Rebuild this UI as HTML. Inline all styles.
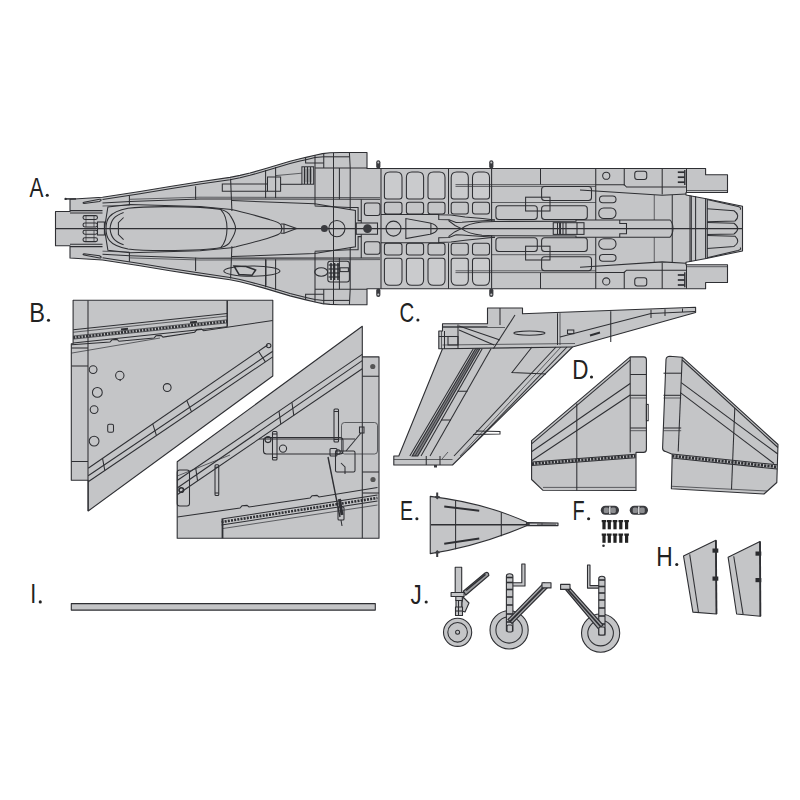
<!DOCTYPE html>
<html><head><meta charset="utf-8"><style>
html,body{margin:0;padding:0;background:#fff;width:800px;height:800px;overflow:hidden}
svg{display:block}
text{font-family:"Liberation Sans",sans-serif;font-size:24px;fill:#222;}
.g{fill:#c4c5c7;stroke:#2e2f33;stroke-width:1.1;stroke-linejoin:round}
.l{fill:none;stroke:#2e2f33;stroke-width:1.05}
.t{fill:none;stroke:#2e2f33;stroke-width:0.7}
.k{fill:#3a3b3f;stroke:none}
</style></head><body>
<svg width="800" height="800" viewBox="0 0 800 800">
<path class="g" d="M55.50,211.50 L70.00,211.50 L70.00,199.20 L102.50,197.20 L140.00,191.50 L170.00,186.50 L200.00,181.80 L230.00,177.40 L240.00,175.40 L250.00,173.00 L265.00,168.80 L280.00,164.30 L290.00,161.30 L300.00,158.80 L307.00,157.10 L315.00,155.20 L322.50,153.60 L330.00,152.80 L340.00,152.50 L367.00,152.50 L367.00,168.50 L705.60,168.50 L705.60,174.75 L727.50,174.75 L727.50,192.50 L686.00,192.50 L686.00,195.00 L706.25,198.75 L742.50,206.25 L742.50,250.95 L706.25,258.45 L686.00,262.20 L686.00,264.70 L727.50,264.70 L727.50,282.45 L705.60,282.45 L705.60,288.70 L367.00,288.70 L367.00,304.70 L340.00,304.70 L330.00,304.40 L322.50,303.60 L315.00,302.00 L307.00,300.10 L300.00,298.40 L290.00,295.90 L280.00,292.90 L265.00,288.40 L250.00,284.20 L240.00,281.80 L230.00,279.80 L200.00,275.40 L170.00,270.70 L140.00,265.70 L102.50,260.00 L70.00,258.00 L70.00,245.70 L55.50,245.70 Z" />
<path class="l" d="M55.50,228.60 L742.50,228.60" />
<path class="l" d="M222.3,184 L267.5,184 L267.5,176.9 L280.6,176.9 L280.6,191.3 L222.3,191.3 Z"/>
<path class="l" d="M267.50,191.30 L267.50,184.00" />
<rect class="l" x="301.9" y="166.8" width="11.8" height="17.4"/>
<rect class="k" x="303.5" y="168.5" width="8.6" height="14" fill-opacity="0.35"/>
<path class="l" d="M304.50,167.00 L304.50,184.00" />
<path class="l" d="M307.50,167.00 L307.50,184.00" />
<path class="l" d="M310.50,167.00 L310.50,184.00" />
<path class="l" d="M280.00,184.30 L301.90,184.30" />
<path class="t" d="M275.60,175.60 L301.90,173.20" />
<path class="l" d="M70.00,210.60 L102.50,210.60" />
<path class="l" d="M70.00,213.00 L102.50,213.00" />
<path class="l" d="M84,202.2 L99.5,199.2 Q101.5,199 101,200.5 L99.5,201.5 L84,203.4 Q82,203 84,202.2 Z"/>
<rect class="l" x="83" y="215.6" width="14.50" height="3.80" rx="1.9"/>
<rect class="l" x="83" y="223" width="14.50" height="4.00" rx="1.9"/>
<path class="t" d="M86.00,215.60 L86.00,227.00" />
<path class="t" d="M94.00,215.60 L94.00,227.00" />
<path class="l" d="M102.50,199.40 L140.00,193.80 L170.00,188.80 L200.00,184.10 L230.00,179.70 L240.00,177.70 L250.00,175.30 L265.00,171.10 L280.00,166.60 L290.00,163.60 L300.00,161.10 L307.00,159.40 L315.00,157.60 L323.75,156.80" />
<path class="l" d="M102.50,203.00 L130.00,201.50 L200.00,199.00 L380.00,199.30" />
<path class="t" d="M130.00,199.30 L200.00,197.20 L380.00,197.60" />
<path class="t" d="M102.50,206.00 L129.40,205.20" />
<path class="l" d="M129.40,195.50 L129.40,205.20" />
<path class="l" d="M195.60,186.20 L195.60,199.40" />
<path class="l" d="M230.60,178.70 L231.90,211.00" />
<path class="l" d="M265.60,170.00 L265.60,198.00" />
<path class="l" d="M275.60,167.00 L275.60,198.00" />
<path class="l" d="M305.60,157.40 L305.60,163.00 L323.75,163.00" />
<path class="l" d="M315.00,155.00 L315.00,205.50" />
<path class="l" d="M323.75,153.00 L323.75,168.00" />
<path class="l" d="M323.75,156.80 L349.40,156.80" />
<path class="l" d="M349.40,152.50 L350.20,168.00 L350.20,209.50" />
<path class="l" d="M315.00,168.00 L367.00,168.00" />
<path class="l" d="M339.40,168.00 L339.40,199.30" />
<path class="l" d="M104.4,228.6 L107.9,207 L130,204.5 L200,206.5 L231.5,209.5"/>
<path class="l" d="M106,228.6 C106,220 108,212 128,208.2 C140,206.6 150,206.6 165,206.6 C195,206.6 213,207.8 220.8,209.6 C225,214 227,220 227,228.6"/>
<path class="l" d="M110,228.6 C111,220 114,216 123.6,212.5"/>
<path class="l" d="M118.4,228.6 L118.4,222.7 L123.6,217.5"/>
<path class="l" d="M220.8,209.6 C226,211 229,213 230.5,216 C233,220 235.6,224 235.6,228.6"/>
<path class="l" d="M231.5,209.5 L236,210.5 C250,214 262,217 270,219.8 C276,221.5 280,223 281,225 L282,228.6"/>
<path class="l" d="M231.9,200.6 L314.75,203.8 L355.4,210.5 L355.4,228.6"/>
<path class="l" d="M281,224 L284,224 L296.7,228.6"/>
<path class="l" d="M284.00,224.00 L284.00,228.60" />
<path class="l" d="M314.75,206.00 L350.20,207.50 L358.10,207.50 L358.10,220.60 L361.25,220.60" />
<path class="l" d="M333.50,152.80 L333.50,228.60" />
<path class="l" d="M361.25,199.30 L361.25,223.00" />
<path class="l" d="M381.00,168.50 L381.00,228.60" />
<path class="l" d="M448.50,168.50 L448.50,214.00" />
<path class="l" d="M491.60,168.50 L491.60,221.60" />
<path class="l" fill="#cacbcd" d="M384.4,196.5 L384.4,177.5 Q384.4,172 389.9,172 L396.5,172 Q402,172 402,177.5 L402,196.5 Q402,199 399.5,199 L386.9,199 Q384.4,199 384.4,196.5 Z" style="fill:#cacbcd"/>
<rect class="l" x="384.4" y="202.3" width="17.60" height="11.70" rx="2.5"/>
<path class="l" fill="#cacbcd" d="M406.4,196.5 L406.4,177.5 Q406.4,172 411.9,172 L418.1,172 Q423.6,172 423.6,177.5 L423.6,196.5 Q423.6,199 421.1,199 L408.9,199 Q406.4,199 406.4,196.5 Z" style="fill:#cacbcd"/>
<rect class="l" x="406.4" y="202.3" width="17.20" height="11.70" rx="2.5"/>
<path class="l" fill="#cacbcd" d="M428,196.5 L428,177.5 Q428,172 433.5,172 L439.5,172 Q445,172 445,177.5 L445,196.5 Q445,199 442.5,199 L430.5,199 Q428,199 428,196.5 Z" style="fill:#cacbcd"/>
<rect class="l" x="428" y="202.3" width="17.00" height="11.70" rx="2.5"/>
<path class="l" fill="#cacbcd" d="M451.2,196.5 L451.2,177.5 Q451.2,172 456.7,172 L462.8,172 Q468.3,172 468.3,177.5 L468.3,196.5 Q468.3,199 465.8,199 L453.7,199 Q451.2,199 451.2,196.5 Z" style="fill:#cacbcd"/>
<rect class="l" x="451.2" y="202.3" width="17.10" height="11.70" rx="2.5"/>
<path class="l" fill="#cacbcd" d="M472.5,196.5 L472.5,177.5 Q472.5,172 478.0,172 L484.0,172 Q489.5,172 489.5,177.5 L489.5,196.5 Q489.5,199 487.0,199 L475.0,199 Q472.5,199 472.5,196.5 Z" style="fill:#cacbcd"/>
<rect class="l" x="472.5" y="202.3" width="17.00" height="11.70" rx="2.5"/>
<rect class="l" x="364.4" y="203" width="15.60" height="12.50" rx="2.5"/>
<path class="l" d="M381.00,214.50 L438.75,214.50 L438.75,214.70 L451.00,215.10 L465.00,216.90 L482.50,218.60 L495.00,219.90" />
<path class="l" d="M438.75,214.50 L438.75,219.50 L449.00,219.70 L456.00,222.50 L462.00,222.20 L472.00,221.40 L495.00,219.90" />
<path class="l" d="M449.00,219.70 L449.00,221.00 L455.00,225.50 L461.50,228.60" />
<path class="l" d="M405.85,228.6 L405.85,218.6 L430,223 Q436.5,224.5 437.5,228.6"/>
<path class="l" d="M430.90,223.00 L430.90,228.60" />
<path class="l" d="M461.5,228.6 Q468,223.5 482,222 L495,221.4 L576,221.2 L576,220 L670,220 Q673,223 673,228.6"/>
<path class="t" d="M455.50,184.60 L595.75,184.60" />
<path class="t" d="M455.50,186.40 L595.75,186.40" />
<rect class="l" x="541.6" y="186.5" width="49.90" height="13.90" rx="3"/>
<rect class="l" x="525.6" y="197.2" width="24.4" height="13.8"/>
<rect class="l" x="495.9" y="205.7" width="41.40" height="13.80" rx="3"/>
<rect class="l" x="541.6" y="205.7" width="45.70" height="13.80" rx="3"/>
<path class="t" d="M491.60,202.50 L595.75,202.50" />
<path class="l" d="M540.50,168.50 L540.50,184.40" />
<path class="l" d="M595.75,168.50 L595.75,220.00" />
<path class="l" d="M624.25,168.50 L624.25,185.50" />
<path class="l" d="M662.20,168.50 L662.20,194.50" />
<path class="l" d="M686.50,168.50 L686.50,192.50" />
<circle class="l" cx="606.25" cy="175.75" r="3.6"/>
<rect class="l" x="634.75" y="171.25" width="12.00" height="8.25" rx="2.5"/>
<path class="l" d="M684.80,170.00 L684.80,185.00" style="stroke-width:1.4"/>
<path class="l" d="M677.80,172.20 L684.80,172.20" style="stroke-width:1.7"/>
<path class="l" d="M677.80,177.20 L684.80,177.20" style="stroke-width:1.7"/>
<path class="l" d="M677.80,182.20 L684.80,182.20" style="stroke-width:1.7"/>
<path class="l" d="M595.75,184.75 L624.25,184.75 L626.50,187.00 L686.00,187.00" />
<path class="l" d="M580,190 C610,192 640,194 662.2,195.3 L686,194"/>
<rect class="l" x="599.5" y="196" width="16.50" height="6.75" rx="3.3"/>
<rect class="l" x="598.75" y="208" width="17.25" height="10.50" rx="5"/>
<path class="l" d="M619.75,220 L619.75,223.4 L626.5,223.4 L626.5,228.6"/>
<path class="t" d="M654.25,195.00 L654.25,220.00" />
<path class="l" d="M672.25,195.00 L672.25,228.60" />
<path class="l" d="M690.00,195.50 L690.00,228.60" />
<path class="l" d="M691.30,195.70 L691.30,228.60" />
<path class="l" d="M695.60,196.30 L695.60,228.60" />
<path class="l" d="M705.60,198.50 L705.60,228.60" />
<path class="l" d="M707.30,199.00 L707.30,228.60" />
<path class="l" d="M707,199.5 L738,206.6 Q742,207.8 740,209.5"/>
<path class="l" d="M707,208.8 L734,210.8 Q741,215.5 735,221 L707,221.8"/>
<path class="t" d="M686.00,190.50 L727.50,190.50" />
<rect x="376.2" y="160.2" width="4.2" height="8.4" rx="2" fill="#3a3b3f"/>
<circle cx="378.3" cy="162.6" r="1" fill="#c4c5c7"/>
<rect x="489.2" y="160.2" width="4.2" height="8.4" rx="2" fill="#3a3b3f"/>
<circle cx="491.3" cy="162.6" r="1" fill="#c4c5c7"/>
<g transform="matrix(1,0,0,-1,0,457.2)"><path class="l" d="M70.00,210.60 L102.50,210.60" /><path class="l" d="M70.00,213.00 L102.50,213.00" /><path class="l" d="M84,202.2 L99.5,199.2 Q101.5,199 101,200.5 L99.5,201.5 L84,203.4 Q82,203 84,202.2 Z"/><rect class="l" x="83" y="215.6" width="14.50" height="3.80" rx="1.9"/><rect class="l" x="83" y="223" width="14.50" height="4.00" rx="1.9"/><path class="t" d="M86.00,215.60 L86.00,227.00" /><path class="t" d="M94.00,215.60 L94.00,227.00" /><path class="l" d="M102.50,199.40 L140.00,193.80 L170.00,188.80 L200.00,184.10 L230.00,179.70 L240.00,177.70 L250.00,175.30 L265.00,171.10 L280.00,166.60 L290.00,163.60 L300.00,161.10 L307.00,159.40 L315.00,157.60 L323.75,156.80" /><path class="l" d="M102.50,203.00 L130.00,201.50 L200.00,199.00 L380.00,199.30" /><path class="t" d="M130.00,199.30 L200.00,197.20 L380.00,197.60" /><path class="t" d="M102.50,206.00 L129.40,205.20" /><path class="l" d="M129.40,195.50 L129.40,205.20" /><path class="l" d="M195.60,186.20 L195.60,199.40" /><path class="l" d="M230.60,178.70 L231.90,211.00" /><path class="l" d="M265.60,170.00 L265.60,198.00" /><path class="l" d="M275.60,167.00 L275.60,198.00" /><path class="l" d="M305.60,157.40 L305.60,163.00 L323.75,163.00" /><path class="l" d="M315.00,155.00 L315.00,205.50" /><path class="l" d="M323.75,153.00 L323.75,168.00" /><path class="l" d="M323.75,156.80 L349.40,156.80" /><path class="l" d="M349.40,152.50 L350.20,168.00 L350.20,209.50" /><path class="l" d="M315.00,168.00 L367.00,168.00" /><path class="l" d="M339.40,168.00 L339.40,199.30" /><path class="l" d="M104.4,228.6 L107.9,207 L130,204.5 L200,206.5 L231.5,209.5"/><path class="l" d="M106,228.6 C106,220 108,212 128,208.2 C140,206.6 150,206.6 165,206.6 C195,206.6 213,207.8 220.8,209.6 C225,214 227,220 227,228.6"/><path class="l" d="M110,228.6 C111,220 114,216 123.6,212.5"/><path class="l" d="M118.4,228.6 L118.4,222.7 L123.6,217.5"/><path class="l" d="M220.8,209.6 C226,211 229,213 230.5,216 C233,220 235.6,224 235.6,228.6"/><path class="l" d="M231.5,209.5 L236,210.5 C250,214 262,217 270,219.8 C276,221.5 280,223 281,225 L282,228.6"/><path class="l" d="M231.9,200.6 L314.75,203.8 L355.4,210.5 L355.4,228.6"/><path class="l" d="M281,224 L284,224 L296.7,228.6"/><path class="l" d="M284.00,224.00 L284.00,228.60" /><path class="l" d="M314.75,206.00 L350.20,207.50 L358.10,207.50 L358.10,220.60 L361.25,220.60" /><path class="l" d="M333.50,152.80 L333.50,228.60" /><path class="l" d="M361.25,199.30 L361.25,223.00" /><path class="l" d="M381.00,168.50 L381.00,228.60" /><path class="l" d="M448.50,168.50 L448.50,214.00" /><path class="l" d="M491.60,168.50 L491.60,221.60" /><path class="l" fill="#cacbcd" d="M384.4,196.5 L384.4,177.5 Q384.4,172 389.9,172 L396.5,172 Q402,172 402,177.5 L402,196.5 Q402,199 399.5,199 L386.9,199 Q384.4,199 384.4,196.5 Z" style="fill:#cacbcd"/><rect class="l" x="384.4" y="202.3" width="17.60" height="11.70" rx="2.5"/><path class="l" fill="#cacbcd" d="M406.4,196.5 L406.4,177.5 Q406.4,172 411.9,172 L418.1,172 Q423.6,172 423.6,177.5 L423.6,196.5 Q423.6,199 421.1,199 L408.9,199 Q406.4,199 406.4,196.5 Z" style="fill:#cacbcd"/><rect class="l" x="406.4" y="202.3" width="17.20" height="11.70" rx="2.5"/><path class="l" fill="#cacbcd" d="M428,196.5 L428,177.5 Q428,172 433.5,172 L439.5,172 Q445,172 445,177.5 L445,196.5 Q445,199 442.5,199 L430.5,199 Q428,199 428,196.5 Z" style="fill:#cacbcd"/><rect class="l" x="428" y="202.3" width="17.00" height="11.70" rx="2.5"/><path class="l" fill="#cacbcd" d="M451.2,196.5 L451.2,177.5 Q451.2,172 456.7,172 L462.8,172 Q468.3,172 468.3,177.5 L468.3,196.5 Q468.3,199 465.8,199 L453.7,199 Q451.2,199 451.2,196.5 Z" style="fill:#cacbcd"/><rect class="l" x="451.2" y="202.3" width="17.10" height="11.70" rx="2.5"/><path class="l" fill="#cacbcd" d="M472.5,196.5 L472.5,177.5 Q472.5,172 478.0,172 L484.0,172 Q489.5,172 489.5,177.5 L489.5,196.5 Q489.5,199 487.0,199 L475.0,199 Q472.5,199 472.5,196.5 Z" style="fill:#cacbcd"/><rect class="l" x="472.5" y="202.3" width="17.00" height="11.70" rx="2.5"/><rect class="l" x="364.4" y="203" width="15.60" height="12.50" rx="2.5"/><path class="l" d="M381.00,214.50 L438.75,214.50 L438.75,214.70 L451.00,215.10 L465.00,216.90 L482.50,218.60 L495.00,219.90" /><path class="l" d="M438.75,214.50 L438.75,219.50 L449.00,219.70 L456.00,222.50 L462.00,222.20 L472.00,221.40 L495.00,219.90" /><path class="l" d="M449.00,219.70 L449.00,221.00 L455.00,225.50 L461.50,228.60" /><path class="l" d="M405.85,228.6 L405.85,218.6 L430,223 Q436.5,224.5 437.5,228.6"/><path class="l" d="M430.90,223.00 L430.90,228.60" /><path class="l" d="M461.5,228.6 Q468,223.5 482,222 L495,221.4 L576,221.2 L576,220 L670,220 Q673,223 673,228.6"/><path class="t" d="M455.50,184.60 L595.75,184.60" /><path class="t" d="M455.50,186.40 L595.75,186.40" /><rect class="l" x="541.6" y="186.5" width="49.90" height="13.90" rx="3"/><rect class="l" x="525.6" y="197.2" width="24.4" height="13.8"/><rect class="l" x="495.9" y="205.7" width="41.40" height="13.80" rx="3"/><rect class="l" x="541.6" y="205.7" width="45.70" height="13.80" rx="3"/><path class="t" d="M491.60,202.50 L595.75,202.50" /><path class="l" d="M540.50,168.50 L540.50,184.40" /><path class="l" d="M595.75,168.50 L595.75,220.00" /><path class="l" d="M624.25,168.50 L624.25,185.50" /><path class="l" d="M662.20,168.50 L662.20,194.50" /><path class="l" d="M686.50,168.50 L686.50,192.50" /><circle class="l" cx="606.25" cy="175.75" r="3.6"/><rect class="l" x="634.75" y="171.25" width="12.00" height="8.25" rx="2.5"/><path class="l" d="M684.80,170.00 L684.80,185.00" style="stroke-width:1.4"/><path class="l" d="M677.80,172.20 L684.80,172.20" style="stroke-width:1.7"/><path class="l" d="M677.80,177.20 L684.80,177.20" style="stroke-width:1.7"/><path class="l" d="M677.80,182.20 L684.80,182.20" style="stroke-width:1.7"/><path class="l" d="M595.75,184.75 L624.25,184.75 L626.50,187.00 L686.00,187.00" /><path class="l" d="M580,190 C610,192 640,194 662.2,195.3 L686,194"/><rect class="l" x="599.5" y="196" width="16.50" height="6.75" rx="3.3"/><rect class="l" x="598.75" y="208" width="17.25" height="10.50" rx="5"/><path class="l" d="M619.75,220 L619.75,223.4 L626.5,223.4 L626.5,228.6"/><path class="t" d="M654.25,195.00 L654.25,220.00" /><path class="l" d="M672.25,195.00 L672.25,228.60" /><path class="l" d="M690.00,195.50 L690.00,228.60" /><path class="l" d="M691.30,195.70 L691.30,228.60" /><path class="l" d="M695.60,196.30 L695.60,228.60" /><path class="l" d="M705.60,198.50 L705.60,228.60" /><path class="l" d="M707.30,199.00 L707.30,228.60" /><path class="l" d="M707,199.5 L738,206.6 Q742,207.8 740,209.5"/><path class="l" d="M707,208.8 L734,210.8 Q741,215.5 735,221 L707,221.8"/><path class="t" d="M686.00,190.50 L727.50,190.50" /><rect x="376.2" y="160.2" width="4.2" height="8.4" rx="2" fill="#3a3b3f"/><circle cx="378.3" cy="162.6" r="1" fill="#c4c5c7"/><rect x="489.2" y="160.2" width="4.2" height="8.4" rx="2" fill="#3a3b3f"/><circle cx="491.3" cy="162.6" r="1" fill="#c4c5c7"/></g>
<ellipse class="l" cx="251.9" cy="271.1" rx="28.1" ry="5.2"/>
<path class="l" d="M234,266 L246,266.5 L255.6,270 L252,275.3 L239,274.5 Z" style="stroke-width:1.5"/>
<path class="l" d="M265.90,259.40 L265.90,285.60" />
<rect class="l" x="327.8" y="261.25" width="21.60" height="20.65" rx="2.5"/>
<path class="l" d="M331.00,263.00 L331.00,280.00" style="stroke-width:1.6"/>
<path class="l" d="M334.50,263.00 L334.50,280.00" style="stroke-width:1.6"/>
<path class="l" d="M338.00,263.00 L338.00,280.00" style="stroke-width:1.6"/>
<path class="l" d="M328.50,265.00 L340.00,265.00" style="stroke-width:1.2"/>
<path class="l" d="M328.50,269.00 L340.00,269.00" style="stroke-width:1.2"/>
<path class="l" d="M328.50,273.00 L340.00,273.00" style="stroke-width:1.2"/>
<path class="l" d="M328.50,277.00 L340.00,277.00" style="stroke-width:1.2"/>
<rect class="l" x="340" y="267.8" width="8.4" height="3.8"/>
<ellipse class="l" cx="321.2" cy="272" rx="6.5" ry="4.2"/>
<path class="l" d="M707,222.6 L734,223.2 Q741.5,228.6 734,234 L707,234.6"/>
<rect class="l" x="97.5" y="222" width="6.9" height="13"/>
<circle class="l" cx="393.5" cy="228.6" r="7.5"/>
<circle class="l" cx="336.9" cy="228.6" r="8.1"/>
<circle class="k" cx="324.4" cy="228.6" r="3.5"/>
<circle class="k" cx="367.5" cy="228.6" r="4.4"/>
<rect class="l" x="356.25" y="223" width="21.25" height="11.25"/>
<rect class="l" x="553.25" y="222.7" width="30.75" height="11.7"/>
<path class="l" d="M557.50,222.70 L557.50,234.40" />
<path class="l" d="M560.50,222.70 L560.50,234.40" />
<path class="l" d="M563.00,222.70 L563.00,234.40" />
<path class="l" d="M566.00,222.70 L566.00,234.40" />
<path class="l" d="M577.00,222.70 L577.00,234.40" />
<rect class="k" x="559" y="222.7" width="1.5" height="11.7"/>
<path class="l" d="M65.50,198.90 L76.00,198.90" style="stroke-width:1.5"/>
<circle cx="65.6" cy="198.9" r="1.2" fill="#2e2f33"/>
<path class="g" d="M73.10,300.30 L272.80,300.30 L272.80,376.00 L88.20,511.00 L88.20,480.30 L71.30,480.30 L71.30,343.80 L73.10,343.80 Z" />
<path class="g" d="M362.30,326.30 L362.30,356.90 L379.00,356.90 L379.00,538.30 L177.20,538.30 L177.20,461.70 Z" />
<path class="l" d="M88.00,300.40 L88.00,511.00" />
<path class="l" d="M73.25,329.75 L227.20,313.55" />
<path class="t" d="M73.25,332.25 L227.20,316.05" />
<path class="t" d="M73.25,336.00 L227.20,319.80" />
<path class="t" d="M73.25,339.10 L227.20,322.90" />
<path class="l" d="M73.25,342.90 L227.20,326.70" />
<path class="l" d="M73.25,337.60 L227.20,321.40" style="stroke-width:2.6" stroke-dasharray="2 1.2"/>
<path class="l" d="M227.20,300.40 L227.20,326.70" style="stroke-width:1.5"/>
<path class="l" d="M121.00,329.50 L128.00,328.80" style="stroke-width:2"/>
<path class="l" d="M190.00,322.50 L197.00,321.80" style="stroke-width:2"/>
<path class="l" d="M71.75,344.75 L110,342 L112,339.8 L117,339.4 L119,341.3 L154,338 L156,335.8 L161,335.4 L163,337.1 L194.7,332.2 L196.8,329.6 L201.5,329 L203.6,330.8 L272.7,320.4"/>
<path class="t" d="M71.50,353.10 L160.00,338.00" />
<path class="l" d="M71.50,348.00 L88.00,348.00" />
<path class="l" d="M71.50,366.00 L88.00,366.00" />
<path class="l" d="M71.30,461.50 L88.00,461.50" />
<circle class="l" cx="93.1" cy="369.6" r="3.9"/>
<circle class="l" cx="119.8" cy="375.5" r="4.2"/>
<circle class="l" cx="97.35" cy="392.4" r="4.9"/>
<circle class="l" cx="94.1" cy="409.6" r="3.9"/>
<circle class="l" cx="167.2" cy="387.5" r="3.9"/>
<circle class="l" cx="94.1" cy="441.1" r="4.9"/>
<path class="l" d="M119.80,379.70 L120.50,381.00" />
<rect class="l" x="107.7" y="424.3" width="5.80" height="7.95" rx="1.5"/>
<path class="l" d="M88.20,468.25 L267.50,345.00" />
<path class="l" d="M88.20,475.75 L272.75,351.25" />
<path class="l" d="M88.20,481.75 L272.75,356.90" />
<path class="l" d="M102.54,458.39 L104.81,470.51" />
<path class="l" d="M152.75,423.88 L156.48,435.56" />
<path class="l" d="M186.81,400.46 L191.55,411.83" />
<path class="l" d="M258.54,351.16 L265.37,361.89" />
<circle class="l" cx="268.7" cy="345.6" r="2.2"/>
<path class="l" d="M362.30,356.90 L362.30,538.30" />
<path class="l" d="M362.30,376.25 L379.00,376.25" />
<path class="l" d="M362.30,472.00 L379.00,472.00" />
<path class="l" d="M362.30,493.00 L379.00,493.00" />
<circle cx="372.75" cy="366.5" r="2.6" fill="#555"/>
<circle cx="373" cy="479.5" r="2.6" fill="#555"/>
<path class="l" d="M177.20,480.50 L362.25,354.40" />
<path class="l" d="M177.20,488.00 L362.25,360.60" />
<path class="l" d="M177.20,494.75 L362.25,368.75" />
<path class="l" d="M195.70,467.89 L197.56,480.89" />
<path class="l" d="M278.98,411.14 L280.83,424.19" />
<path class="l" d="M291.93,402.32 L293.78,415.37" />
<rect class="l" x="177.2" y="470" width="12.30" height="36.00" rx="2.5"/>
<circle class="l" cx="181.3" cy="490" r="2.3" style="stroke-width:1.6"/>
<rect class="l" x="215" y="464.75" width="3.75" height="30.75" rx="1"/>
<path class="l" d="M215.00,467.25 L218.75,467.25" />
<path class="l" d="M215.00,493.00 L218.75,493.00" />
<rect class="l" x="272.5" y="431.5" width="4.50" height="28.50" rx="1"/>
<path class="l" d="M272.50,434.00 L277.00,434.00" />
<path class="l" d="M272.50,457.50 L277.00,457.50" />
<rect class="l" x="334" y="409" width="4.50" height="33.00" rx="1"/>
<path class="l" d="M334.00,411.50 L338.50,411.50" />
<path class="l" d="M334.00,439.50 L338.50,439.50" />
<rect class="l" x="263.5" y="437.5" width="79.50" height="16.50" rx="3"/>
<path class="l" d="M259.00,439.00 L355.00,439.00" />
<circle class="l" cx="268" cy="439.6" r="3"/>
<circle class="l" cx="283" cy="448.6" r="3.6"/>
<rect class="t" x="341.5" y="422.5" width="36.00" height="31.50" rx="3"/>
<rect class="l" x="335.5" y="451" width="19.50" height="21.00" rx="1.5"/>
<rect class="l" x="330" y="448.5" width="7.00" height="7.50" rx="1"/>
<circle class="l" cx="338" cy="452" r="2.3"/>
<path class="l" d="M341.00,463.00 L345.00,467.00 L345.00,474.00" />
<path class="l" d="M328.00,457.00 L340.00,517.00" style="stroke-width:1.4"/>
<path class="l" d="M339.50,499.00 L342.00,515.00" style="stroke-width:3"/>
<rect class="l" x="338" y="507" width="6.00" height="13.00" rx="1"/>
<path class="l" d="M341.00,520.00 L342.00,526.00" />
<rect class="l" x="359.5" y="427" width="4.5" height="6"/>
<path class="l" d="M346.00,451.00 L361.00,433.00" />
<path class="l" d="M177.4,517 L240,508 L242,505.8 L247,505.4 L249,507 L310,498 L312,495.8 L317,495.4 L319,497 L377.5,487.5"/>
<path class="l" d="M221.50,519.00 L377.50,495.00" />
<path class="l" d="M221.50,522.00 L377.50,498.00" style="stroke-width:2.6" stroke-dasharray="2 1.2"/>
<path class="l" d="M221.50,525.00 L377.50,501.00" />
<path class="t" d="M223.00,528.50 L377.50,505.00" />
<path class="l" d="M222.50,519.00 L222.50,538.30" style="stroke-width:1.8"/>
<path class="t" d="M177.20,476.00 L230.00,455.00" />
<path class="g" d="M487.50,308.00 L522.50,308.00 L522.50,313.70 L695.60,307.20 L695.60,312.50 L572.50,347.00 L452.50,465.00 L393.80,465.00 L393.80,456.00 L398.80,456.00 L442.50,348.80 L438.80,348.80 L438.80,331.00 L442.50,331.00 L442.50,323.80 L487.50,323.80 Z" />
<path class="l" d="M500.00,308.00 L500.00,325.00" />
<path class="t" d="M442.50,326.50 L487.50,326.50" />
<path class="l" d="M442.50,348.80 L572.50,347.00" />
<path class="t" d="M442.50,345.00 L575.00,343.50" />
<path class="t" d="M443.00,327.50 L505.00,327.50" />
<path class="l" d="M459.00,326.00 L500.00,340.00" />
<path class="l" d="M459.00,330.00 L494.00,345.00" />
<path class="l" d="M458.00,324.50 L458.00,349.00" />
<rect class="l" x="448" y="336.5" width="10" height="8.5"/>
<path class="l" d="M444.50,331.00 L444.50,349.00" />
<path class="l" d="M438.80,336.50 L448.00,336.50" />
<path class="t" d="M441.50,331.00 L441.50,349.00" />
<path class="l" d="M515.00,315.00 L493.50,348.50" />
<ellipse class="l" cx="529.4" cy="333.1" rx="15.6" ry="2.1"/>
<path class="l" d="M557.50,313.20 L557.50,345.00" />
<path class="t" d="M560.00,313.10 L560.00,345.00" />
<path class="l" d="M610.75,311.30 L610.75,342.00" />
<path class="l" d="M651.00,309.80 L651.00,318.00" />
<path class="l" d="M665.00,309.20 L665.00,316.00" />
<path class="l" d="M682.50,308.50 L682.50,312.00" />
<path class="l" d="M560.00,337.00 L651.00,313.40 L695.00,311.50" />
<rect class="l" x="567.5" y="330" width="6.3" height="3.7"/>
<path class="l" d="M590.00,335.50 L600.00,332.50" style="stroke-width:2"/>
<path d="M475.5,348.8 L479.8,348.8 L417.8,456 L412.2,456 Z" fill="#7d7e81" stroke="#2e2f33" stroke-width="1.1"/>
<path class="l" d="M477.60,348.80 L415.00,456.00" style="stroke-width:0.8"/>
<path class="l" d="M473.30,348.80 L409.80,456.00" />
<path class="l" d="M482.20,348.80 L421.00,456.00" />
<path class="l" d="M491.00,348.80 L430.00,456.00" />
<path class="l" d="M457.50,391.25 L467.50,391.25" />
<path class="l" d="M441.00,420.00 L451.00,420.00" />
<path class="l" d="M532,347 L512,372.5 L546,374"/>
<path class="l" d="M556.00,347.00 L454.00,456.00" />
<path class="t" d="M561.00,347.00 L460.00,456.00" />
<path class="l" d="M567.00,347.00 L468.00,450.00" />
<path class="l" d="M426.25,456.00 L426.25,465.00" />
<path class="l" d="M440.00,456.00 L440.00,465.00" />
<path class="t" d="M393.80,459.50 L452.50,459.50" />
<path class="t" d="M442.00,459.00 L448.00,452.00" />
<path class="l" d="M476,431 L500,431.5 L500,434 L473,434.5"/>
<rect class="k" x="434" y="465" width="3" height="2.5"/>
<path class="g" d="M630.2,356.9 L643.6,356.9 Q646.4,356.9 646.4,359.7 L646.4,449.4 Q646.4,452.4 643.4,452.4 L636,452.4 L636,490.5 L543,490.3 L531.6,479.5 L531.6,440.7 Z"/>
<path class="g" d="M669.8,356.3 L682.2,357.2 L778,444.5 L776.8,482.5 L764,494 L671.4,488.8 L672.2,454.3 L665.6,451.5 Q662.6,451.2 662.6,448 L666,359.5 Q666.4,356.3 669.8,356.3 Z"/>
<path class="l" d="M531.90,443.60 L630.20,360.20" />
<path class="l" d="M531.90,451.50 L630.20,383.50" />
<path class="l" d="M531.90,460.50 L630.20,395.00" />
<path class="l" d="M531.90,462.00 L635.60,454.30" />
<path class="l" d="M531.90,465.40 L635.60,457.70" />
<path class="l" d="M531.90,463.70 L635.60,456.00" style="stroke-width:2.8" stroke-dasharray="2.2 1.1"/>
<path class="l" d="M630.20,356.90 L630.20,452.40" />
<path class="l" d="M576.80,403.50 L576.80,490.50" />
<path class="t" d="M543.00,487.40 L635.60,487.40" />
<path class="l" d="M630.20,374.50 L646.40,374.50" />
<path class="l" d="M630.20,395.30 L646.40,395.30" />
<path class="t" d="M630.20,398.00 L646.40,398.00" />
<path class="l" d="M630.20,428.00 L646.40,428.00" />
<path class="t" d="M630.20,430.70 L646.40,430.70" />
<rect class="l" x="646.4" y="404.4" width="1.8" height="16.3"/>
<path class="l" d="M682.20,360.00 L777.90,447.50" />
<path class="l" d="M681.20,382.60 L777.80,454.00" />
<path class="l" d="M680.40,392.60 L774.00,463.50" />
<path class="l" d="M672.20,454.00 L777.20,464.80" />
<path class="l" d="M672.20,458.00 L777.20,469.00" />
<path class="l" d="M672.20,456.00 L777.20,466.90" style="stroke-width:2.8" stroke-dasharray="2.2 1.1"/>
<path class="l" d="M734.80,408.00 L731.50,489.60" />
<path class="t" d="M672.00,486.30 L767.00,491.00" />
<path class="l" d="M682.20,357.20 L678.20,451.50" />
<path class="l" d="M663.50,373.20 L681.20,373.20" />
<path class="l" d="M663.50,395.30 L681.20,395.30" />
<path class="t" d="M663.50,398.00 L681.20,398.00" />
<path class="l" d="M663.50,428.00 L681.20,428.00" />
<path class="t" d="M663.50,430.70 L681.20,430.70" />
<path class="g" d="M430.25,496.4 C465,500.5 500,510 526.5,522.1 L526.5,525.8 C500,537 465,548.5 430.25,553.6 Z"/>
<path class="g" d="M526.50,522.60 L558.00,523.00 L558.00,525.60 L526.50,525.60 Z" />
<rect class="k" x="526.5" y="522.3" width="3.2" height="3.6"/>
<path class="t" d="M537.00,524.20 L556.00,524.20" />
<path class="t" d="M542.00,523.00 L542.00,525.60" />
<path class="l" d="M431.00,524.75 L526.50,524.75" style="stroke-width:1.4"/>
<path class="l" d="M455.60,500.40 L455.60,549.20" />
<path class="l" d="M501.30,512.30 L501.30,536.30" />
<path class="l" d="M444.25,506.40 L479.25,510.75" style="stroke-width:2"/>
<path class="l" d="M444.25,543.65 L479.25,538.40" style="stroke-width:2"/>
<path class="k" d="M436.2,492.5 L438.2,492.5 L438.2,496 L440.2,496.5 L437.2,499.5 L434.5,496.5 L436.2,496 Z"/>
<path class="k" d="M436.2,557 L438.2,557 L438.2,553.5 L440.2,553 L437.2,550 L434.5,553 L436.2,553.5 Z"/>
<rect x="600.8" y="505.75" width="18.2" height="9" rx="4.5" fill="#3a3b3f"/>
<rect x="603.8" y="507.5" width="5" height="5.5" rx="1.5" fill="#8d8e91"/>
<rect x="610.8" y="507.5" width="5" height="5.5" rx="1.5" fill="#8d8e91"/>
<rect x="609.0" y="506.5" width="1.6" height="7.5" fill="#d5d6d8"/>
<rect x="629.75" y="505.75" width="18.2" height="9" rx="4.5" fill="#3a3b3f"/>
<rect x="632.75" y="507.5" width="5" height="5.5" rx="1.5" fill="#8d8e91"/>
<rect x="639.75" y="507.5" width="5" height="5.5" rx="1.5" fill="#8d8e91"/>
<rect x="637.95" y="506.5" width="1.6" height="7.5" fill="#d5d6d8"/>
<rect x="601.7" y="520" width="4.6" height="2.2" fill="#222"/>
<rect x="602.4" y="521.5" width="3.2" height="7.8" fill="#222"/>
<rect x="607.0" y="520" width="4.6" height="2.2" fill="#222"/>
<rect x="607.6999999999999" y="521.5" width="3.2" height="7.8" fill="#222"/>
<rect x="612.7" y="520" width="4.6" height="2.2" fill="#222"/>
<rect x="613.4" y="521.5" width="3.2" height="7.8" fill="#222"/>
<rect x="618.5" y="520" width="4.6" height="2.2" fill="#222"/>
<rect x="619.1999999999999" y="521.5" width="3.2" height="7.8" fill="#222"/>
<rect x="624.3000000000001" y="520" width="4.6" height="2.2" fill="#222"/>
<rect x="625.0" y="521.5" width="3.2" height="7.8" fill="#222"/>
<rect x="601.7" y="533.5" width="4.6" height="2.2" fill="#222"/>
<rect x="602.4" y="535.0" width="3.2" height="7.8" fill="#222"/>
<rect x="607.0" y="533.5" width="4.6" height="2.2" fill="#222"/>
<rect x="607.6999999999999" y="535.0" width="3.2" height="7.8" fill="#222"/>
<rect x="612.7" y="533.5" width="4.6" height="2.2" fill="#222"/>
<rect x="613.4" y="535.0" width="3.2" height="7.8" fill="#222"/>
<rect x="618.5" y="533.5" width="4.6" height="2.2" fill="#222"/>
<rect x="619.1999999999999" y="535.0" width="3.2" height="7.8" fill="#222"/>
<rect x="624.3000000000001" y="533.5" width="4.6" height="2.2" fill="#222"/>
<rect x="625.0" y="535.0" width="3.2" height="7.8" fill="#222"/>
<circle cx="603.5" cy="545.8" r="1.3" fill="#2a2b2e"/>
<path class="g" d="M683.50,555.90 L715.90,540.30 L716.50,614.00 L692.90,612.10 Z" />
<path class="g" d="M728.10,557.20 L760.00,541.60 L760.40,616.20 L736.60,614.00 Z" />
<path class="l" d="M689.70,554.40 L698.50,612.50" />
<path class="l" d="M733.75,556.25 L743.10,614.40" />
<rect x="712.5" y="548.5" width="5.8" height="4.2" fill="#2a2b2e"/>
<rect x="712.5" y="576.5" width="5.8" height="4.2" fill="#2a2b2e"/>
<rect x="755.5" y="551.5" width="5.8" height="4.2" fill="#2a2b2e"/>
<rect x="755.5" y="578" width="5.8" height="4.2" fill="#2a2b2e"/>
<path class="l" d="M715.90,540.30 L716.50,614.00" style="stroke-width:1.8"/>
<path class="l" d="M760.00,541.60 L760.40,616.20" style="stroke-width:1.8"/>
<rect class="g" x="71.3" y="603.6" width="304" height="6.5"/>
<circle class="g" cx="457.6" cy="632.3" r="14.1"/>
<circle class="l" cx="457.6" cy="632.3" r="9.8"/>
<circle class="g" cx="509.1" cy="629.9" r="19.1"/>
<circle class="l" cx="509.1" cy="629.9" r="13.2"/>
<circle class="g" cx="600.6" cy="633.1" r="19.1"/>
<circle class="l" cx="600.6" cy="633.1" r="12.8"/>
<circle class="l" cx="457.6" cy="632.3" r="2"/>
<path d="M463.3,591.2 L485,573 Q488.8,571.2 488.8,575.4 L465.8,595 Z" fill="#9c9da0" stroke="#2e2f33" stroke-width="1.2"/>
<path class="l" d="M466.00,590.50 L485.50,574.30" style="stroke-width:1.6"/>
<rect class="g" x="455.2" y="567.3" width="6.5" height="25.2"/>
<rect class="g" x="451.1" y="592.5" width="13" height="4"/>
<rect class="g" x="455.8" y="596.5" width="6.5" height="4"/>
<path class="g" d="M456,600.5 L462,600.5 L462,611 L456,611 Z"/>
<path class="g" d="M463,597 L469,603 L465,612 L462,611 L462,603 Z"/>
<rect class="g" x="455.5" y="607" width="7" height="8.5"/>
<path class="l" d="M458.50,600.50 L458.50,615.00" />
<path class="l" d="M455.50,611.00 L462.50,611.00" />
<path class="g" d="M521.8,564 L525,564 L525,586 L512,586 L512,582.7 L521.8,582.7 Z"/>
<path class="g" d="M506.4,576 Q506.4,573.8 509.6,573.8 Q512.9,573.8 512.9,576 L512.9,631 L506.4,631 Z"/>
<path class="l" d="M506.40,577.50 L512.90,577.50" style="stroke-width:1.6"/>
<path class="l" d="M506.40,582.50 L512.90,582.50" style="stroke-width:1.6"/>
<path class="l" d="M506.40,589.50 L512.90,589.50" style="stroke-width:1.6"/>
<path class="l" d="M506.40,597.00 L512.90,597.00" style="stroke-width:1.6"/>
<path class="l" d="M506.40,605.00 L512.90,605.00" style="stroke-width:1.6"/>
<path class="l" d="M506.40,614.00 L512.90,614.00" style="stroke-width:1.6"/>
<path class="l" d="M506.40,622.00 L512.90,622.00" style="stroke-width:1.6"/>
<path d="M508,619.5 L544,582.7 L549,586 L512,623.5 Z" fill="#a5a6a9" stroke="#2e2f33" stroke-width="1.2"/>
<path class="l" d="M510.00,621.50 L546.50,584.30" style="stroke-width:1.8"/>
<rect class="g" x="542" y="582.7" width="9" height="5.2"/>
<rect class="g" x="507" y="625" width="5.5" height="7" rx="1.5"/>
<path class="g" d="M587.5,565 L590,565 L590,585.6 L601.25,585.6 L601.25,588.1 L587.5,588.1 Z"/>
<path class="g" d="M598.75,578.5 Q598.75,576.25 601.9,576.25 Q605,576.25 605,578.5 L605,635 L598.75,635 Z"/>
<path class="l" d="M598.75,580.00 L605.00,580.00" style="stroke-width:1.6"/>
<path class="l" d="M598.75,586.50 L605.00,586.50" style="stroke-width:1.6"/>
<path class="l" d="M598.75,593.00 L605.00,593.00" style="stroke-width:1.6"/>
<path class="l" d="M598.75,600.00 L605.00,600.00" style="stroke-width:1.6"/>
<path class="l" d="M598.75,608.00 L605.00,608.00" style="stroke-width:1.6"/>
<path class="l" d="M598.75,616.00 L605.00,616.00" style="stroke-width:1.6"/>
<path class="l" d="M598.75,624.00 L605.00,624.00" style="stroke-width:1.6"/>
<path d="M563,586.5 L568.5,586.5 L603,625 L598.5,629 Z" fill="#a5a6a9" stroke="#2e2f33" stroke-width="1.2"/>
<path class="l" d="M566.00,587.50 L601.00,627.00" style="stroke-width:1.8"/>
<rect class="g" x="560.6" y="584.4" width="9.4" height="5"/>
<rect class="g" x="598.8" y="627" width="6" height="8" rx="1.5"/>
<text transform="translate(29.50,196.80) scale(0.765,1)" x="0.00" y="0" style="font-size:27.25px">A</text>
<circle cx="47.25" cy="195.30" r="1.55" fill="#222"/>
<text transform="translate(31.25,321.80) scale(0.835,1)" x="-2.26" y="0" style="font-size:28.26px">B</text>
<circle cx="48.50" cy="320.30" r="1.55" fill="#222"/>
<text transform="translate(400.60,321.55) scale(0.738,1)" x="-1.38" y="0" style="font-size:27.54px">C</text>
<circle cx="417.90" cy="320.05" r="1.55" fill="#222"/>
<text transform="translate(574.00,378.55) scale(0.805,1)" x="-2.23" y="0" style="font-size:27.90px">D</text>
<circle cx="591.50" cy="377.05" r="1.55" fill="#222"/>
<text transform="translate(401.60,520.20) scale(0.706,1)" x="-2.20" y="0" style="font-size:27.54px">E</text>
<circle cx="416.90" cy="518.70" r="1.55" fill="#222"/>
<text transform="translate(574.00,520.20) scale(0.723,1)" x="-2.20" y="0" style="font-size:27.54px">F</text>
<circle cx="588.60" cy="518.70" r="1.55" fill="#222"/>
<text transform="translate(658.00,566.05) scale(0.806,1)" x="-2.26" y="0" style="font-size:28.26px">H</text>
<circle cx="676.75" cy="564.55" r="1.55" fill="#222"/>
<text transform="translate(32.25,603.40) scale(0.787,1)" x="-2.46" y="0" style="font-size:27.32px">I</text>
<circle cx="40.25" cy="601.90" r="1.55" fill="#222"/>
<text transform="translate(411.00,603.55) scale(0.815,1)" x="-0.55" y="0" style="font-size:27.54px">J</text>
<circle cx="426.20" cy="602.05" r="1.55" fill="#222"/>
</svg></body></html>
